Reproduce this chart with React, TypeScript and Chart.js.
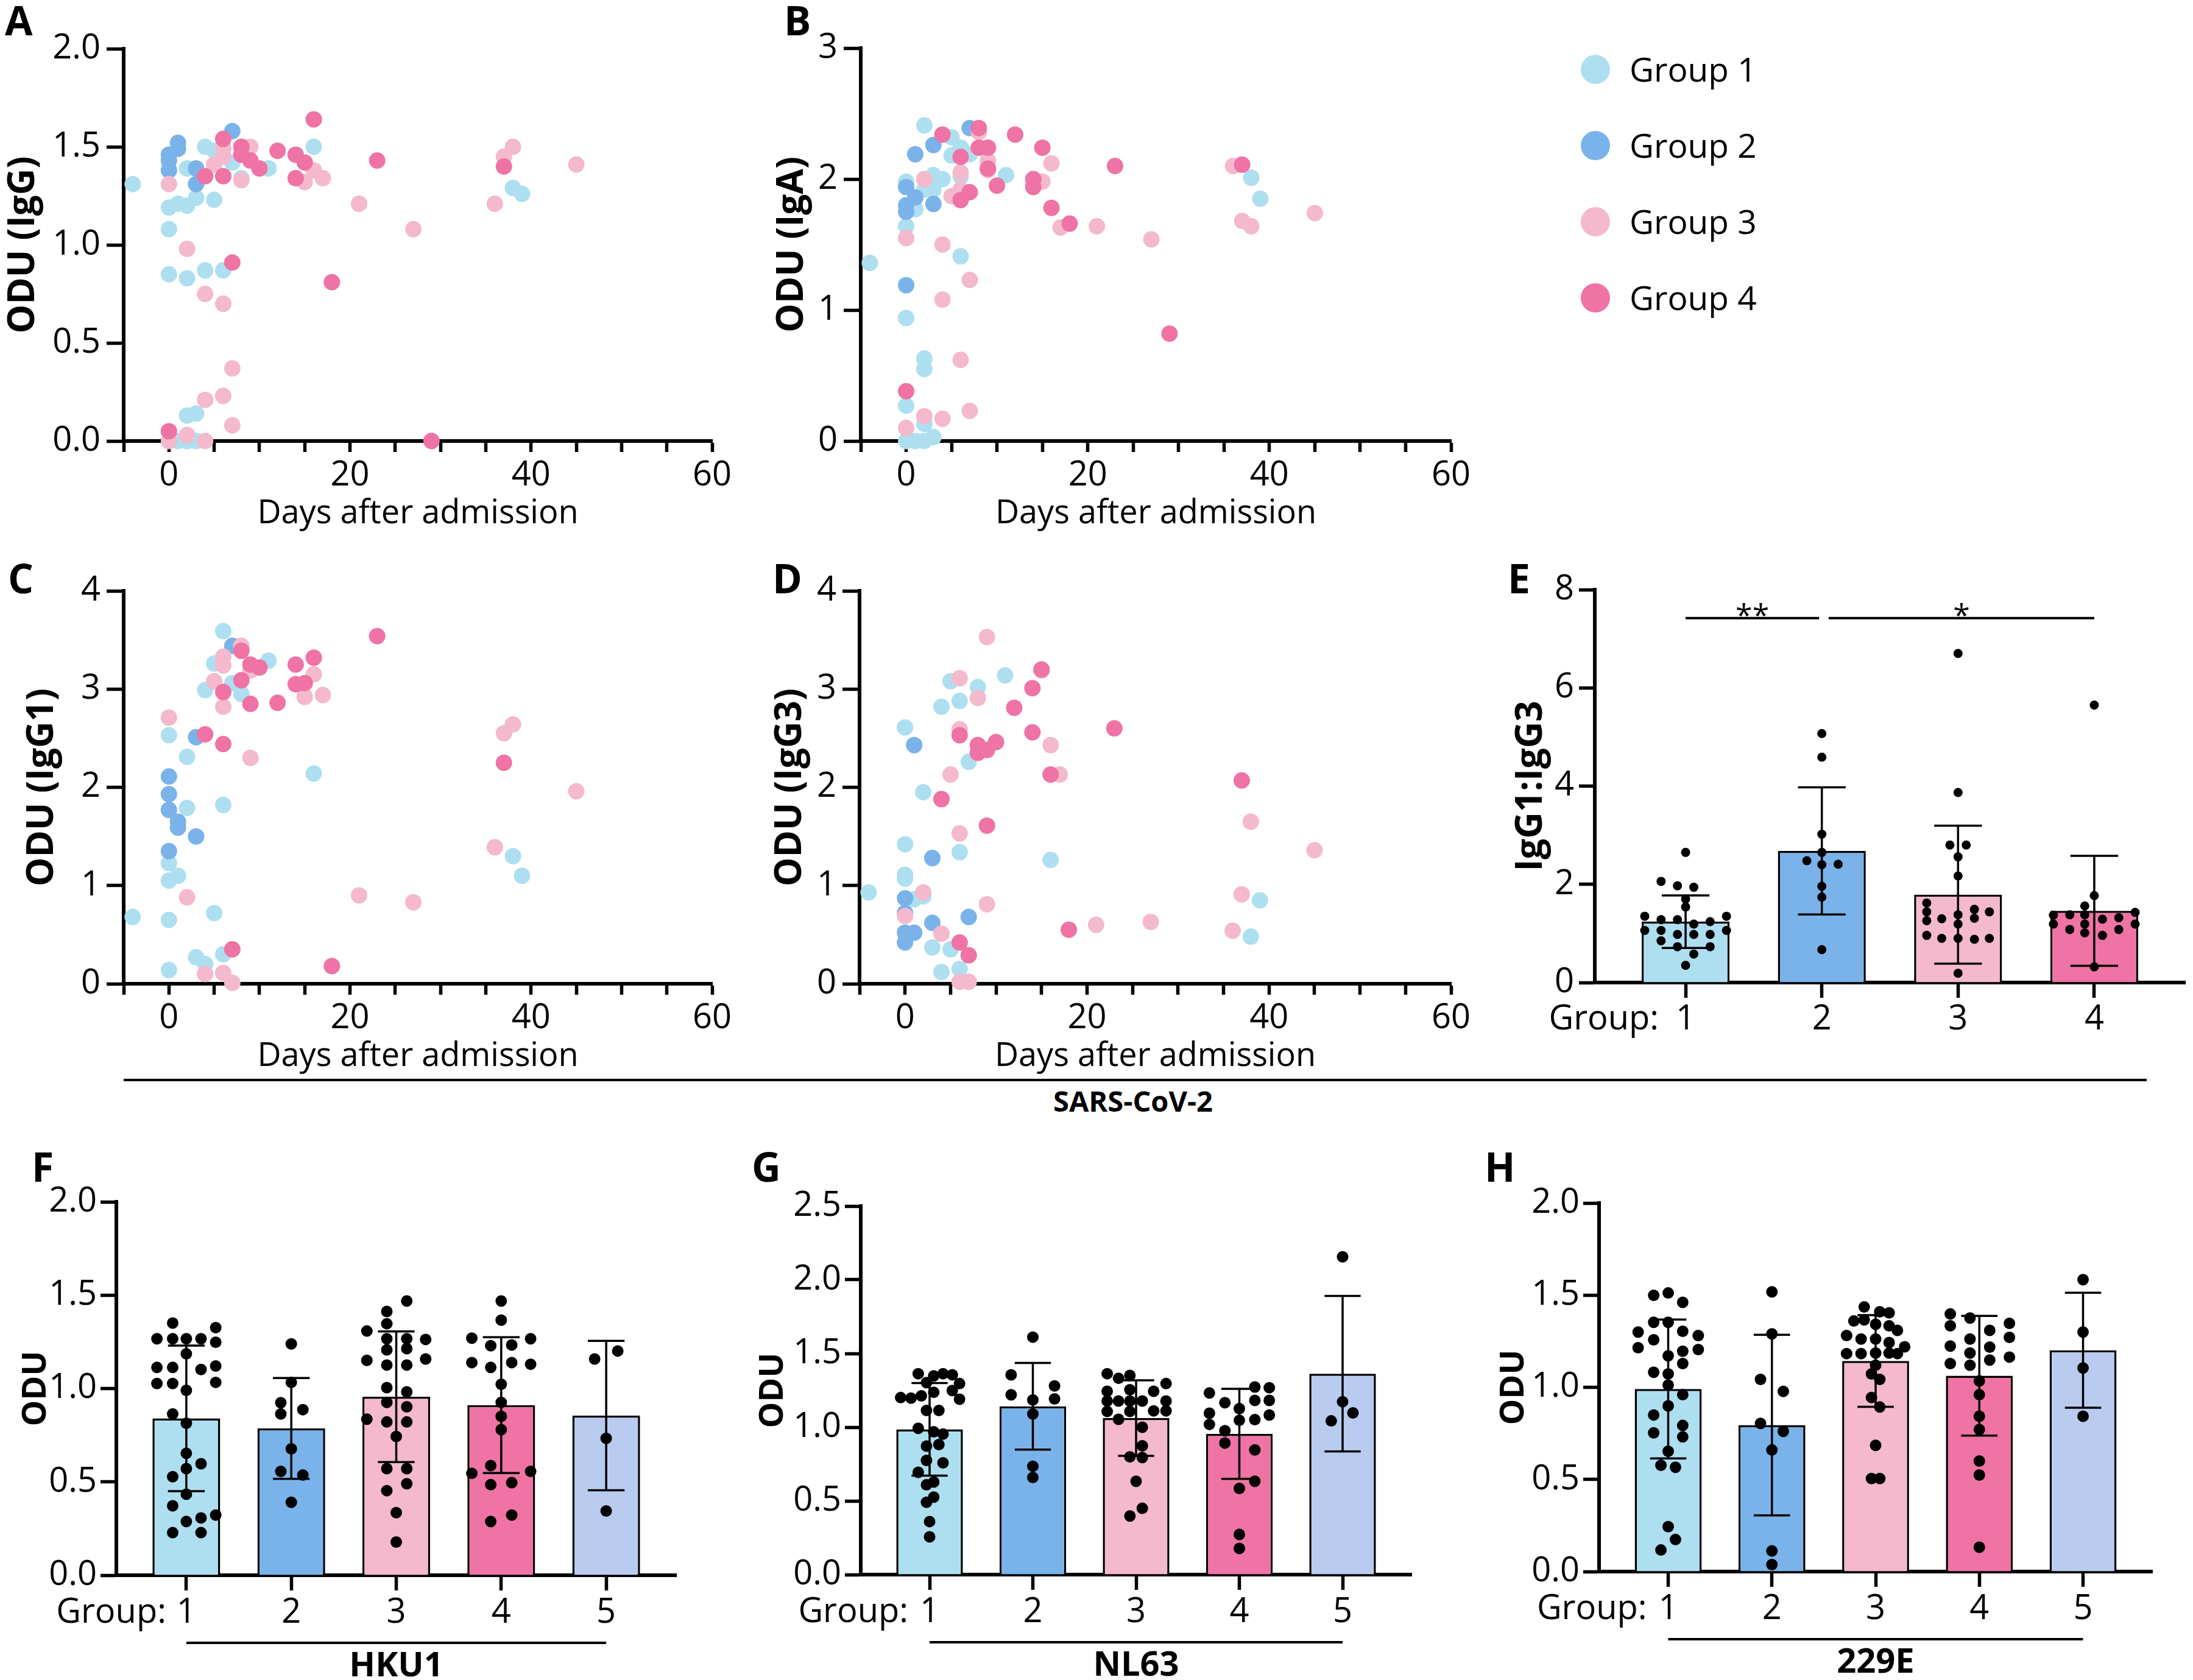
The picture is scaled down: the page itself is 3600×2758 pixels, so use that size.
import React, { useEffect, useRef } from "react";
import { Chart, registerables } from "chart.js";

Chart.register(...registerables);

const FONT = "'Open Sans', 'Noto Sans', 'DejaVu Sans', sans-serif";
Chart.defaults.font.family = FONT;
Chart.defaults.color = "#000";

const GROUP_COLORS = ["#AEDFF0", "#7AB3E9", "#F4B9CC", "#EF73A4", "#B9CCEF"];
const LEGEND_LABELS = ["Group 1", "Group 2", "Group 3", "Group 4"];

// ---------- scatter panels (days after admission, ODU) ----------
const DAY_MIN = -5;
const DAY_MAX = 60;
const DAY_STEP = 5;
const DAY_LABEL_EVERY = 20;

type Pt = [number, number];

// A: IgG
const IGG_G1: Pt[] = [[-4,1.31],[0,1.19],[1,1.21],[2,1.20],[3,1.24],[5,1.23],[2,1.39],[4,1.50],[5,1.48],[7,1.42],[8,1.34],[11,1.39],[16,1.50],[0,1.08],[0,0.85],[2,0.83],[4,0.87],[6,0.87],[2,0.13],[3,0.14],[1,0.0],[2,0.0],[3,0.0],[38,1.29],[39,1.26]];
const IGG_G2: Pt[] = [[0,1.46],[0,1.43],[0,1.38],[1,1.52],[1,1.49],[3,1.39],[3,1.31],[7,1.58]];
const IGG_G3: Pt[] = [[0,1.31],[2,0.98],[4,0.75],[6,0.70],[7,0.37],[6,0.23],[4,0.21],[7,0.08],[2,0.03],[0,0.0],[4,0.0],[5,1.41],[6,1.49],[6,1.45],[9,1.50],[8,1.33],[15,1.32],[16,1.38],[17,1.34],[21,1.21],[27,1.08],[36,1.21],[37,1.45],[38,1.50],[45,1.41]];
const IGG_G4: Pt[] = [[0,0.05],[4,1.35],[6,1.54],[6,1.35],[7,0.91],[8,1.50],[8,1.46],[9,1.43],[10,1.39],[12,1.48],[14,1.46],[15,1.42],[14,1.34],[16,1.64],[18,0.81],[23,1.43],[29,0.0],[37,1.40]];

// B: IgA
const IGA_G1: Pt[] = [[-4,1.36],[0,1.98],[0,1.64],[0,0.94],[0,0.27],[0,0.0],[1,0.0],[2,2.41],[2,0.63],[2,0.55],[2,0.13],[2,0.0],[3,0.03],[1,1.77],[2,1.92],[3,1.92],[3,2.03],[4,2.00],[5,2.18],[5,2.32],[6,2.24],[6,2.02],[7,2.19],[6,1.41],[11,2.03],[38,2.01],[39,1.85]];
const IGA_G2: Pt[] = [[0,1.94],[0,1.80],[0,1.75],[0,1.19],[1,2.19],[1,1.86],[3,2.26],[3,1.81],[7,2.39]];
const IGA_G3: Pt[] = [[0,1.55],[0,0.10],[2,2.00],[2,0.19],[4,1.50],[4,1.08],[4,0.17],[5,1.87],[6,2.05],[6,1.92],[6,0.62],[7,1.23],[7,0.23],[8,2.36],[9,2.14],[9,2.07],[15,1.98],[16,2.12],[17,1.63],[21,1.64],[27,1.54],[36,2.10],[37,1.68],[38,1.64],[45,1.74]];
const IGA_G4: Pt[] = [[0,0.38],[4,2.34],[6,2.17],[6,1.84],[7,1.90],[8,2.39],[8,2.24],[9,2.24],[9,2.08],[10,1.95],[12,2.34],[14,2.00],[14,1.94],[15,2.24],[16,1.78],[18,1.66],[23,2.10],[29,0.82],[37,2.11]];

// C: IgG1
const IGG1_G1: Pt[] = [[-4,0.68],[0,2.53],[0,1.23],[0,1.05],[0,0.65],[0,0.14],[1,1.10],[2,2.31],[2,1.79],[3,0.27],[4,0.20],[4,2.99],[5,3.26],[5,0.72],[6,3.59],[6,1.82],[6,0.30],[7,3.06],[8,2.95],[11,3.29],[16,2.14],[38,1.30],[39,1.10]];
const IGG1_G2: Pt[] = [[0,2.11],[0,1.93],[0,1.77],[0,1.35],[1,1.65],[1,1.59],[3,1.50],[3,2.51],[7,3.44]];
const IGG1_G3: Pt[] = [[0,2.71],[2,0.88],[4,0.10],[5,3.08],[6,3.33],[6,3.24],[6,2.82],[6,0.11],[7,0.01],[8,3.44],[9,3.19],[9,2.30],[15,2.92],[16,3.15],[17,2.94],[21,0.90],[27,0.83],[36,1.39],[37,2.55],[38,2.64],[45,1.96]];
const IGG1_G4: Pt[] = [[4,2.54],[6,2.97],[6,2.44],[7,0.35],[8,3.39],[8,3.09],[9,3.25],[9,2.85],[10,3.22],[12,2.86],[14,3.25],[14,3.05],[15,3.06],[16,3.32],[18,0.18],[23,3.54],[37,2.25]];

// D: IgG3
const IGG3_G1: Pt[] = [[-4,0.93],[0,2.61],[0,1.42],[0,1.11],[0,1.07],[1,0.86],[2,1.95],[2,0.89],[3,0.37],[4,2.82],[4,0.12],[5,3.08],[5,0.35],[6,2.88],[6,1.34],[6,0.15],[7,2.26],[8,3.02],[11,3.14],[16,1.26],[38,0.48],[39,0.85]];
const IGG3_G2: Pt[] = [[0,0.87],[0,0.72],[0,0.52],[0,0.42],[1,0.52],[1,2.43],[3,1.28],[3,0.62],[7,0.68]];
const IGG3_G3: Pt[] = [[0,0.69],[2,0.93],[4,0.51],[5,2.13],[6,3.11],[6,2.59],[6,1.53],[6,0.02],[7,0.02],[8,2.91],[9,3.53],[9,0.81],[15,3.19],[16,2.43],[17,2.13],[21,0.60],[27,0.63],[36,0.54],[37,0.91],[38,1.65],[45,1.36]];
const IGG3_G4: Pt[] = [[4,1.88],[6,2.53],[6,0.42],[7,0.29],[8,2.43],[8,2.35],[9,2.38],[9,1.61],[10,2.46],[12,2.81],[14,3.01],[14,2.56],[15,3.20],[16,2.13],[18,0.55],[23,2.60],[37,2.07]];

// ---------- bar panels ----------
const GROUPS4 = [1, 2, 3, 4];
const GROUPS5 = [1, 2, 3, 4, 5];

// E: IgG1:IgG3 ratio
const E_MEAN = [1.24, 2.68, 1.79, 1.46];
const E_SD = [0.535, 1.295, 1.405, 1.12];
const E_POINTS: number[][] = [
  [2.65, 2.06, 1.97, 1.94, 1.70, 1.54, 1.35, 1.28, 1.28, 1.19, 1.24, 1.35, 1.06, 1.06, 0.98, 0.98, 0.98, 1.06, 0.85, 0.73, 0.73, 0.58, 0.35],
  [5.07, 4.59, 3.02, 2.65, 2.48, 2.41, 2.40, 1.96, 1.74, 0.67],
  [6.70, 3.87, 2.80, 2.80, 2.56, 2.17, 1.62, 1.44, 1.26, 1.30, 1.38, 1.49, 1.44, 1.19, 1.31, 0.96, 0.90, 0.90, 0.88, 0.90, 0.19],
  [5.65, 1.77, 1.56, 1.38, 1.38, 1.29, 1.32, 1.43, 1.37, 1.19, 1.08, 1.19, 1.01, 0.96, 1.08, 1.19, 0.32],
];
const E_JITTER: number[][] = [
  [0, -0.18, -0.06, 0.06, 0, 0, -0.3, -0.18, -0.06, 0.06, 0.18, 0.3, -0.3, -0.18, -0.06, 0.06, 0.18, 0.3, -0.18, -0.06, 0.18, 0.06, 0],
  [0, 0, 0, 0, -0.11, 0.12, 0, 0, 0, 0],
  [0, 0, -0.06, 0.06, 0, 0, -0.23, -0.23, -0.23, -0.12, 0, 0.12, 0.23, 0, 0.12, -0.23, -0.12, 0, 0.12, 0.23, 0],
  [0, 0, -0.07, -0.18, -0.07, 0.06, 0.18, 0.3, -0.3, -0.3, -0.18, -0.07, -0.07, 0.06, 0.18, 0.3, 0],
];
const E_SIG_FROM = [1, 2.05];
const E_SIG_TO = [1.98, 4];
const E_SIG_Y = 7.42;
const E_SIG_LABELS = ["**", "*"];

// F: HKU1
const F_MEAN = [0.84, 0.786, 0.956, 0.911, 0.855];
const F_SD = [0.39, 0.27, 0.35, 0.364, 0.40];
const F_POINTS: number[][] = [
  [1.351, 1.326, 1.267, 1.267, 1.267, 1.267, 1.248, 1.186, 1.113, 1.113, 1.102, 1.121, 1.027, 1.027, 0.990, 1.033, 0.864, 0.814, 0.653, 0.597, 0.571, 0.528, 0.434, 0.372, 0.322, 0.307, 0.288, 0.228, 0.228],
  [1.239, 1.033, 0.924, 0.887, 0.864, 0.677, 0.556, 0.537, 0.391],
  [1.469, 1.413, 1.347, 1.308, 1.263, 1.267, 1.267, 1.207, 1.214, 1.151, 1.158, 1.126, 1.126, 1.005, 0.982, 0.926, 0.902, 0.836, 0.821, 0.821, 0.743, 0.571, 0.571, 0.490, 0.453, 0.335, 0.178],
  [1.469, 1.366, 1.270, 1.267, 1.229, 1.233, 1.139, 1.139, 1.130, 1.113, 1.023, 0.926, 0.851, 0.780, 0.587, 0.546, 0.556, 0.485, 0.496, 0.288, 0.322],
  [1.201, 1.158, 0.733, 0.344],
];
const F_JITTER: number[][] = [
  [-0.13, 0.28, -0.28, -0.13, 0, 0.14, 0.28, 0, -0.28, -0.13, 0.14, 0.28, -0.28, -0.13, 0, 0.28, -0.13, 0, 0, 0.14, 0, -0.13, 0, -0.13, 0.28, 0.14, 0, -0.13, 0.14],
  [0, 0, -0.1, 0.11, -0.1, 0, -0.1, 0.11, 0],
  [0.1, -0.09, -0.09, -0.28, 0.28, -0.09, 0.1, -0.09, 0.1, -0.28, 0.28, -0.09, 0.1, -0.09, 0.1, -0.09, 0.1, -0.28, -0.09, 0.1, 0, -0.09, 0.1, 0.1, -0.09, 0, 0],
  [0, 0, -0.28, 0.28, -0.1, 0.1, -0.28, 0.1, 0.28, -0.1, 0, 0, 0, 0, -0.1, -0.28, 0.28, -0.1, 0.1, -0.1, 0.1],
  [0.11, -0.11, 0, 0],
];

// G: NL63
const G_MEAN = [0.986, 1.142, 1.062, 0.955, 1.363];
const G_SD = [0.314, 0.294, 0.256, 0.305, 0.527];
const G_POINTS: number[][] = [
  [1.363, 1.363, 1.355, 1.348, 1.303, 1.296, 1.201, 1.197, 1.213, 1.237, 1.249, 1.190, 1.114, 1.114, 0.993, 0.969, 0.953, 0.872, 0.882, 0.775, 0.758, 0.694, 0.628, 0.609, 0.526, 0.491, 0.360, 0.256],
  [1.611, 1.355, 1.280, 1.220, 1.192, 1.185, 1.090, 0.735, 0.659],
  [1.363, 1.351, 1.332, 1.296, 1.244, 1.254, 1.244, 1.178, 1.178, 1.178, 1.178, 1.178, 1.107, 1.107, 1.111, 1.111, 1.054, 1.000, 0.874, 0.799, 0.794, 0.633, 0.450, 0.398],
  [1.232, 1.273, 1.268, 1.166, 1.126, 1.182, 1.182, 1.019, 1.047, 1.052, 1.083, 1.095, 0.976, 0.893, 0.846, 0.633, 0.585, 0.273, 0.178],
  [2.156, 1.173, 1.097, 1.043],
];
const G_JITTER: number[][] = [
  [-0.11, 0.13, 0.22, 0.04, -0.03, 0.29, -0.28, -0.18, -0.08, 0.04, 0.22, 0.29, -0.03, 0.09, -0.11, 0.04, 0.13, -0.03, 0.09, -0.03, 0.13, -0.11, 0.04, -0.03, 0.04, -0.03, 0, 0],
  [0, -0.21, 0.21, -0.21, 0.21, 0, 0, 0, 0],
  [-0.28, -0.06, -0.17, 0.29, -0.28, -0.06, 0.17, -0.28, -0.17, -0.06, 0.06, 0.29, -0.28, -0.06, 0.17, 0.29, -0.17, 0.06, 0.06, -0.06, 0.06, 0, 0.06, -0.06],
  [-0.29, 0.15, 0.29, -0.14, 0, 0.15, 0.29, -0.29, 0, 0.15, 0.29, -0.29, -0.14, -0.14, 0.15, 0.15, 0, 0, 0],
  [0, 0, 0.1, -0.11],
];

// H: 229E
const H_MEAN = [0.991, 0.795, 1.143, 1.063, 1.201];
const H_SD = [0.377, 0.49, 0.249, 0.325, 0.312];
const H_POINTS: number[][] = [
  [1.499, 1.512, 1.461, 1.353, 1.353, 1.300, 1.304, 1.281, 1.258, 1.215, 1.171, 1.196, 1.205, 1.129, 1.082, 1.073, 1.012, 0.960, 0.899, 0.850, 0.793, 0.753, 0.731, 0.653, 0.577, 0.566, 0.244, 0.174, 0.117],
  [1.518, 1.290, 1.043, 0.978, 0.804, 0.761, 0.660, 0.112, 0.038],
  [1.436, 1.410, 1.404, 1.360, 1.366, 1.342, 1.334, 1.309, 1.281, 1.262, 1.262, 1.243, 1.220, 1.183, 1.183, 1.186, 1.186, 1.183, 1.120, 1.073, 1.043, 0.945, 0.893, 0.685, 0.505, 0.505],
  [1.398, 1.376, 1.347, 1.334, 1.309, 1.262, 1.271, 1.224, 1.186, 1.218, 1.164, 1.129, 1.120, 1.148, 1.035, 0.960, 0.843, 0.771, 0.600, 0.524, 0.132],
  [1.584, 1.300, 1.105, 0.843],
];
const H_JITTER: number[][] = [
  [-0.14, 0, 0.14, -0.14, 0, -0.29, 0.14, 0.29, -0.14, -0.29, 0, 0.14, 0.29, 0.14, -0.14, 0, 0, 0.14, 0, -0.14, 0.14, -0.14, 0.14, 0, -0.07, 0.07, 0, 0.07, -0.07],
  [0, 0, -0.11, 0.11, -0.11, 0.11, 0, 0, 0],
  [-0.11, 0.04, 0.13, -0.21, -0.11, 0, 0.13, 0.21, -0.28, -0.14, 0, 0.13, 0.28, -0.28, -0.14, 0, 0.13, 0.21, 0, -0.04, 0.04, -0.04, 0.04, 0, -0.04, 0.04],
  [-0.28, -0.09, 0.29, -0.28, 0.1, -0.09, 0.29, -0.28, -0.09, 0.1, 0.29, -0.28, -0.09, 0.1, 0, 0, 0, 0, 0, 0, 0],
  [0, 0, 0, 0],
];

// ---------- layout frames (plot-area edges + margins) ----------
type Frame = { l: number; t: number; r: number; b: number; yW: number; xH: number; padT: number; padR: number };
const FRAME_A: Frame = { l: 203, t: 80, r: 1169, b: 724, yW: 200, xH: 152, padT: 45, padR: 45 };
const FRAME_B: Frame = { l: 1413, t: 79, r: 2382, b: 724, yW: 148, xH: 152, padT: 45, padR: 45 };
const FRAME_C: Frame = { l: 203, t: 970, r: 1169, b: 1615, yW: 169, xH: 152, padT: 45, padR: 45 };
const FRAME_D: Frame = { l: 1411, t: 970, r: 2382, b: 1615, yW: 149, xH: 152, padT: 45, padR: 45 };
const FRAME_E: Frame = { l: 2618, t: 968, r: 3587, b: 1613, yW: 140, xH: 100, padT: 45, padR: 10 };
const FRAME_F: Frame = { l: 191, t: 1973, r: 1110, b: 2586, yW: 164, xH: 172, padT: 45, padR: 20 };
const FRAME_G: Frame = { l: 1413, t: 1980, r: 2317, b: 2585, yW: 176, xH: 173, padT: 45, padR: 20 };
const FRAME_H: Frame = { l: 2625, t: 1975, r: 3533, b: 2580, yW: 172, xH: 178, padT: 45, padR: 20 };

const AXIS_W = 6;
const TICK_W = 5.5;
const TICK_FONT = 56;
const CAP = 0.175;

function axisStyle(tickLength: number) {
  return {
    border: { display: true, color: "#000", width: AXIS_W },
    grid: { display: true, drawOnChartArea: false, drawTicks: true, tickLength, tickWidth: TICK_W, tickColor: "#000", offset: false },
  };
}

function yAxis(f: Frame, max: number, step: number, dec: number, title: string, titleSize: number, tickLen: number, pad: number) {
  return {
    type: "linear",
    min: 0,
    max,
    ...axisStyle(tickLen),
    ticks: { stepSize: step, padding: pad, font: { size: TICK_FONT }, color: "#000", callback: (v: any) => Number(v).toFixed(dec) },
    title: { display: true, text: title, font: { size: titleSize, weight: "bold" }, padding: 0, color: "#000" },
    afterFit: (s: any) => { s.width = f.yW; s.paddingTop = 0; s.paddingBottom = 0; },
  };
}

function baseOptions(f: Frame) {
  return {
    responsive: false,
    animation: false,
    devicePixelRatio: 1,
    events: [],
    layout: { padding: { left: 0, top: f.padT, right: f.padR, bottom: 0 } },
    plugins: { legend: { display: false }, tooltip: { enabled: false } },
  };
}

function scatterConfig(f: Frame, groups: Pt[][], yMax: number, yStep: number, dec: number, yTitle: string) {
  return {
    type: "scatter",
    data: {
      datasets: groups.map((g, i) => ({
        label: LEGEND_LABELS[i],
        data: g.map(([x, y]) => ({ x, y })),
        backgroundColor: GROUP_COLORS[i],
        borderWidth: 0,
        pointRadius: 13.5,
        pointHoverRadius: 13.5,
        clip: false,
        order: groups.length - i,
      })),
    },
    options: {
      ...baseOptions(f),
      scales: {
        x: {
          type: "linear",
          min: DAY_MIN,
          max: DAY_MAX,
          ...axisStyle(18),
          ticks: {
            stepSize: DAY_STEP, autoSkip: false, maxRotation: 0, minRotation: 0, padding: 5,
            font: { size: TICK_FONT }, color: "#000",
            callback: (v: any) => (Number(v) % DAY_LABEL_EVERY === 0 ? String(v) : ""),
          },
          title: { display: true, text: "Days after admission", font: { size: 54 }, padding: 0, color: "#000" },
          afterFit: (s: any) => { s.height = f.xH; s.paddingLeft = 0; s.paddingRight = 0; },
        },
        y: yAxis(f, yMax, yStep, dec, yTitle, 60, 28, 10),
      },
    },
  };
}

function groupPrefixPlugin(gap: number, tickLen: number, pad: number) {
  return {
    id: "groupPrefix",
    afterDraw(chart: any) {
      const xs = chart.scales.x;
      const ctx = chart.ctx;
      ctx.save();
      ctx.font = `${TICK_FONT}px ${FONT}`;
      ctx.fillStyle = "#000";
      ctx.textAlign = "right";
      ctx.textBaseline = "middle";
      ctx.fillText("Group:", xs.getPixelForValue(1) - gap, xs.top + tickLen + pad + (TICK_FONT * 1.2) / 2);
      ctx.restore();
    },
  };
}

function virusPlugin(label: string, from: number, to: number, mid: number) {
  return {
    id: "virusLabel",
    afterDraw(chart: any) {
      const xs = chart.scales.x;
      const ctx = chart.ctx;
      const base = chart.chartArea.bottom;
      ctx.save();
      ctx.strokeStyle = "#000";
      ctx.lineWidth = 4;
      ctx.beginPath();
      ctx.moveTo(xs.getPixelForValue(from), base + 111);
      ctx.lineTo(xs.getPixelForValue(to), base + 111);
      ctx.stroke();
      ctx.font = `bold 56px ${FONT}`;
      ctx.fillStyle = "#000";
      ctx.textAlign = "center";
      ctx.textBaseline = "alphabetic";
      ctx.fillText(label, xs.getPixelForValue(mid), base + 166);
      ctx.restore();
    },
  };
}

function sigPlugin() {
  return {
    id: "sigStars",
    afterDatasetsDraw(chart: any) {
      const xs = chart.scales.x;
      const ys = chart.scales.y;
      const ctx = chart.ctx;
      ctx.save();
      ctx.font = `50px ${FONT}`;
      ctx.fillStyle = "#000";
      ctx.textAlign = "center";
      ctx.textBaseline = "alphabetic";
      E_SIG_LABELS.forEach((lab, i) => {
        const x = xs.getPixelForValue((E_SIG_FROM[i] + E_SIG_TO[i]) / 2);
        ctx.fillText(lab, x, ys.getPixelForValue(E_SIG_Y) + 13);
      });
      ctx.restore();
    },
  };
}

function barConfig(
  f: Frame, groups: number[], means: number[], sds: number[], points: number[][], jitter: number[][],
  yMax: number, yStep: number, dec: number, yTitle: string, titleSize: number, dotR: number,
  xTickLen: number, xPad: number, yPad: number, prefixGap: number, extraPlugins: any[], extraDatasets: any[],
) {
  const err: any[] = [];
  groups.forEach((g, i) => {
    const hi = means[i] + sds[i];
    const lo = means[i] - sds[i];
    err.push(
      { x: g - CAP, y: hi }, { x: g + CAP, y: hi }, { x: g, y: null },
      { x: g, y: hi }, { x: g, y: lo }, { x: g, y: null },
      { x: g - CAP, y: lo }, { x: g + CAP, y: lo }, { x: g, y: null },
    );
  });
  const dots: any[] = [];
  points.forEach((vals, i) => vals.forEach((v, k) => dots.push({ x: groups[i] + jitter[i][k], y: v })));
  return {
    type: "bar",
    data: {
      datasets: [
        {
          type: "bar",
          label: "mean",
          data: groups.map((g, i) => ({ x: g, y: means[i] })),
          backgroundColor: groups.map((_, i) => GROUP_COLORS[i]),
          borderColor: "#000",
          borderWidth: 3.5,
          barPercentage: 0.645,
          categoryPercentage: 1,
          order: 3,
        },
        {
          type: "line",
          label: "sd",
          data: err,
          borderColor: "#000",
          borderWidth: 3.5,
          pointRadius: 0,
          spanGaps: false,
          fill: false,
          tension: 0,
          clip: false,
          order: 2,
        },
        ...extraDatasets,
        {
          type: "scatter",
          label: "points",
          data: dots,
          backgroundColor: "#000",
          borderWidth: 0,
          pointRadius: dotR,
          pointHoverRadius: dotR,
          showLine: false,
          clip: false,
          order: 0,
        },
      ],
    },
    options: {
      ...baseOptions(f),
      scales: {
        x: {
          type: "linear",
          bounds: "data",
          offset: false,
          min: 1 / 3,
          max: groups.length + 2 / 3,
          ...axisStyle(xTickLen),
          afterBuildTicks: (s: any) => { s.ticks = groups.map((v) => ({ value: v })); },
          ticks: { autoSkip: false, maxRotation: 0, minRotation: 0, padding: xPad, font: { size: TICK_FONT }, color: "#000", callback: (v: any) => String(v) },
          afterFit: (s: any) => { s.height = f.xH; s.paddingLeft = 0; s.paddingRight = 0; },
        },
        y: yAxis(f, yMax, yStep, dec, yTitle, titleSize, 26, yPad),
      },
    },
    plugins: [groupPrefixPlugin(prefixGap, xTickLen, xPad), ...extraPlugins],
  };
}

function sigDataset() {
  const data: any[] = [];
  E_SIG_FROM.forEach((from, i) => {
    data.push({ x: from, y: E_SIG_Y }, { x: E_SIG_TO[i], y: E_SIG_Y }, { x: E_SIG_TO[i], y: null });
  });
  return {
    type: "line",
    label: "sig",
    data,
    borderColor: "#000",
    borderWidth: 4,
    pointRadius: 0,
    spanGaps: false,
    fill: false,
    clip: false,
    order: 1,
  };
}

function ChartCanvas({ frame, make }: { frame: Frame; make: () => any }) {
  const ref = useRef<HTMLCanvasElement>(null);
  const left = frame.l - frame.yW;
  const top = frame.t - frame.padT;
  const width = Math.round(frame.r - frame.l + frame.yW + frame.padR);
  const height = Math.round(frame.b - frame.t + frame.padT + frame.xH);
  useEffect(() => {
    const chart = new Chart(ref.current as HTMLCanvasElement, make());
    return () => chart.destroy();
  }, []);
  return (
    <canvas
      ref={ref}
      width={width}
      height={height}
      style={{ position: "absolute", left, top, width, height }}
    />
  );
}

function Txt({ x, base, size, bold, center, children }: any) {
  return (
    <div
      style={{
        position: "absolute",
        left: x,
        top: base - 0.888 * size,
        fontSize: size,
        lineHeight: `${size}px`,
        fontWeight: bold ? 700 : 400,
        fontFamily: FONT,
        color: "#000",
        whiteSpace: "nowrap",
        transform: center ? "translateX(-50%)" : undefined,
      }}
    >
      {children}
    </div>
  );
}

const PANEL_LETTERS: [string, number, number][] = [
  ["A", 8, 58], ["B", 1287, 58], ["C", 13, 974], ["D", 1268, 974],
  ["E", 2475, 974], ["F", 52, 1940], ["G", 1234, 1940], ["H", 2437, 1940],
];

export default function App() {
  useEffect(() => {
    document.body.style.margin = "0";
  }, []);
  return (
    <div style={{ position: "absolute", left: 0, top: 0, width: 3600, height: 2758, background: "#fff", overflow: "hidden" }}>
      <ChartCanvas frame={FRAME_A} make={() => scatterConfig(FRAME_A, [IGG_G1, IGG_G2, IGG_G3, IGG_G4], 2, 0.5, 1, "ODU (IgG)")} />
      <ChartCanvas frame={FRAME_B} make={() => scatterConfig(FRAME_B, [IGA_G1, IGA_G2, IGA_G3, IGA_G4], 3, 1, 0, "ODU (IgA)")} />
      <ChartCanvas frame={FRAME_C} make={() => scatterConfig(FRAME_C, [IGG1_G1, IGG1_G2, IGG1_G3, IGG1_G4], 4, 1, 0, "ODU (IgG1)")} />
      <ChartCanvas frame={FRAME_D} make={() => scatterConfig(FRAME_D, [IGG3_G1, IGG3_G2, IGG3_G3, IGG3_G4], 4, 1, 0, "ODU (IgG3)")} />
      <ChartCanvas
        frame={FRAME_E}
        make={() => barConfig(FRAME_E, GROUPS4, E_MEAN, E_SD, E_POINTS, E_JITTER, 8, 2, 0, "IgG1:IgG3", 60, 7.5, 25, 2, 8, 44, [sigPlugin()], [sigDataset()])}
      />
      <ChartCanvas
        frame={FRAME_F}
        make={() => barConfig(FRAME_F, GROUPS5, F_MEAN, F_SD, F_POINTS, F_JITTER, 2, 0.5, 1, "ODU", 54, 9.5, 25, 3, 6, 33, [virusPlugin("HKU1", 1, 5, 3)], [])}
      />
      <ChartCanvas
        frame={FRAME_G}
        make={() => barConfig(FRAME_G, GROUPS5, G_MEAN, G_SD, G_POINTS, G_JITTER, 2.5, 0.5, 1, "ODU", 54, 9.5, 25, 3, 6, 35, [virusPlugin("NL63", 1, 5, 3)], [])}
      />
      <ChartCanvas
        frame={FRAME_H}
        make={() => barConfig(FRAME_H, GROUPS5, H_MEAN, H_SD, H_POINTS, H_JITTER, 2, 0.5, 1, "ODU", 54, 9.5, 25, 3, 6, 35, [virusPlugin("229E", 1, 5, 3)], [])}
      />

      {PANEL_LETTERS.map(([t, x, b]) => (
        <Txt key={t} x={x} base={b} size={66} bold>{t}</Txt>
      ))}

      {LEGEND_LABELS.map((lab, i) => {
        const cy = 114 + i * 125;
        return (
          <React.Fragment key={lab}>
            <div style={{ position: "absolute", left: 2619 - 24, top: cy - 24, width: 48, height: 48, borderRadius: "50%", background: GROUP_COLORS[i] }} />
            <Txt x={2675} base={cy + 20} size={55}>{lab}</Txt>
          </React.Fragment>
        );
      })}

      <div style={{ position: "absolute", left: 203, top: 1771, width: 3321, height: 4, background: "#000" }} />
      <Txt x={1860} base={1826} size={47} bold center>SARS-CoV-2</Txt>
    </div>
  );
}
